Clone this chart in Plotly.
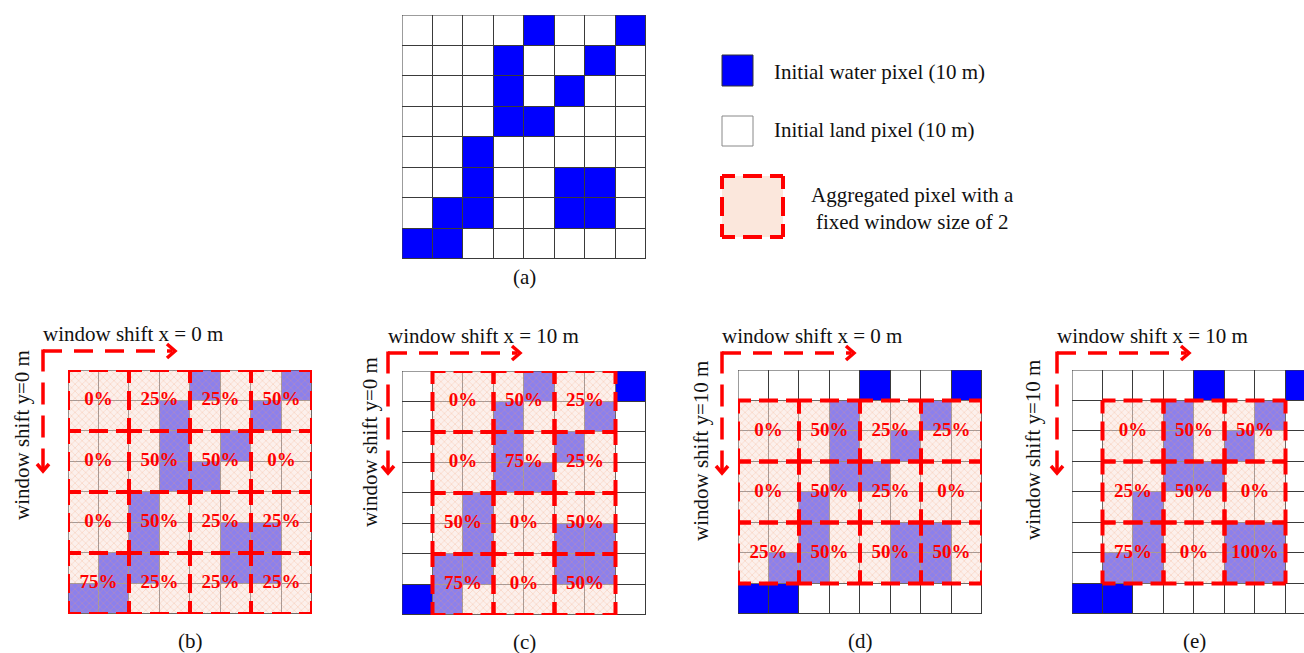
import plotly.graph_objects as go

W, H = 1304, 653
CELL = 30.5  # on-screen size of one 10 m pixel

# Initial 8x8 classification, row 0 at the top: 1 = water, 0 = land
water = [
    [0, 0, 0, 0, 1, 0, 0, 1],
    [0, 0, 0, 1, 0, 0, 1, 0],
    [0, 0, 0, 1, 0, 1, 0, 0],
    [0, 0, 0, 1, 1, 0, 0, 0],
    [0, 0, 1, 0, 0, 0, 0, 0],
    [0, 0, 1, 0, 0, 1, 1, 0],
    [0, 1, 1, 0, 0, 1, 1, 0],
    [1, 1, 0, 0, 0, 0, 0, 0],
]
window_size = 2
pixel_size_m = 10

panel_names = ["(b)", "(c)", "(d)", "(e)"]
shift_x_px = [0, 1, 0, 1]  # window offset in initial pixels
shift_y_px = [0, 0, 1, 1]

legend_labels = [
    "Initial water pixel (10 m)",
    "Initial land pixel (10 m)",
    "Aggregated pixel with a<br>fixed window size of 2",
]

# Page placement (pixels): grid top-left corner, shift-arrow corner, y-label centre
grid_origin = {"(a)": (402, 15), "(b)": (68, 370), "(c)": (402, 371),
               "(d)": (738, 370), "(e)": (1072, 370)}
arrow_corner = {"(b)": (43, 351), "(c)": (388, 353), "(d)": (722, 353), "(e)": (1057, 353)}
ylabel_pos = {"(b)": (22, 435), "(c)": (370, 442), "(d)": (701, 451), "(e)": (1033, 450)}

FONT = "Liberation Serif"
RED = "#ff0000"
WIN_DASH = "13px,8px,19px,8px,13px,0px"
GRID_LINE = "#3a3a3a"

n_rows, n_cols = len(water), len(water[0])


def px(x):
    return x / W


def py(y):
    return 1 - y / H


def label(x, y, text, **kw):
    d = dict(x=px(x), y=py(y), xref="paper", yref="paper", text=text, showarrow=False,
             xanchor="center", yanchor="middle", font=dict(size=21, color="#111"))
    d.update(kw)
    return d


fig = go.Figure()
shapes, annotations = [], []
layout_axes = {}

panels = [("(a)", None, None)] + list(zip(panel_names, shift_x_px, shift_y_px))
centers = [i + 0.5 for i in range(n_cols)]

for k, (name, sx, sy) in enumerate(panels, start=1):
    x0, y0 = grid_origin[name]
    right = min(x0 + n_cols * CELL, W)
    xid = "x" if k == 1 else f"x{k}"
    yid = "y" if k == 1 else f"y{k}"
    layout_axes["xaxis" if k == 1 else f"xaxis{k}"] = dict(
        domain=[px(x0), px(right)], range=[0, (right - x0) / CELL],
        visible=False, anchor=yid, fixedrange=True)
    layout_axes["yaxis" if k == 1 else f"yaxis{k}"] = dict(
        domain=[py(y0 + n_rows * CELL), py(y0)], range=[n_rows, 0],
        visible=False, anchor=xid, fixedrange=True)

    # base pixels: white land / blue water, 1px gaps show the grid lines
    fig.add_trace(go.Heatmap(
        z=water, x=centers, y=centers, zmin=0, zmax=1,
        colorscale=[[0, "#ffffff"], [1, "#0000ff"]], showscale=False,
        xgap=1, ygap=1, xaxis=xid, yaxis=yid, hoverinfo="skip"))
    shapes.append(dict(type="rect", xref=xid, yref=yid, x0=0, x1=n_cols, y0=0, y1=n_rows,
                       line=dict(color=GRID_LINE, width=1), fillcolor="rgba(0,0,0,0)"))

    if sx is None:
        annotations.append(label(x0 + 4 * CELL, y0 + n_rows * CELL + 18, name))
        continue

    # aggregation windows
    col_starts = list(range(sx, n_cols - window_size + 1, window_size))
    row_starts = list(range(sy, n_rows - window_size + 1, window_size))
    wx, wbase, lx, ly, ltxt = [], [], [], [], []
    for r in row_starts:
        for c in col_starts:
            n_water = sum(water[r + i][c + j] for i in range(window_size) for j in range(window_size))
            frac = n_water / window_size ** 2
            wx.append(c + window_size / 2)
            wbase.append(r)
            lx.append(c + window_size / 2)
            ly.append(r + window_size / 2)
            ltxt.append(f"{round(frac * 100)}%")
            shapes.append(dict(type="rect", xref=xid, yref=yid, x0=c, x1=c + window_size,
                               y0=r, y1=r + window_size,
                               line=dict(color=RED, width=4, dash=WIN_DASH)))
    fig.add_trace(go.Bar(
        x=wx, y=[window_size] * len(wx), base=wbase, width=window_size,
        xaxis=xid, yaxis=yid, hoverinfo="skip", showlegend=False,
        marker=dict(color="rgba(250,229,221,0.56)", line=dict(width=0),
                    pattern=dict(shape="x", fgcolor="#f0986a", fgopacity=0.45,
                                 size=5, solidity=0.2, fillmode="overlay"))))
    fig.add_trace(go.Scatter(
        x=lx, y=ly, text=ltxt, mode="text", textposition="middle center",
        xaxis=xid, yaxis=yid, hoverinfo="skip", showlegend=False,
        textfont=dict(family=FONT, size=19, color=RED, weight="bold")))

    # panel letter
    annotations.append(label(x0 + 4 * CELL, y0 + n_rows * CELL + 27, name))

    # shift arrows and their labels
    cx, cy = arrow_corner[name]
    hx, vy = cx + 132, cy + 120
    shapes.append(dict(type="line", xref="paper", yref="paper", x0=px(cx), y0=py(cy),
                       x1=px(hx - 3), y1=py(cy), line=dict(color=RED, width=3.5, dash="19px,12px")))
    shapes.append(dict(type="line", xref="paper", yref="paper", x0=px(cx), y0=py(cy - 1.5),
                       x1=px(cx), y1=py(vy - 3), line=dict(color=RED, width=3.5, dash="22px,11px")))
    shapes.append(dict(type="path", xref="paper", yref="paper",
                       path=f"M {px(hx - 8)},{py(cy - 7)} L {px(hx)},{py(cy)} L {px(hx - 8)},{py(cy + 7)}",
                       line=dict(color=RED, width=3.5)))
    shapes.append(dict(type="path", xref="paper", yref="paper",
                       path=f"M {px(cx - 6)},{py(vy - 7)} L {px(cx)},{py(vy)} L {px(cx + 6)},{py(vy - 7)}",
                       line=dict(color=RED, width=3.5)))
    shift_x_m = sx * pixel_size_m
    shift_y_m = sy * pixel_size_m
    annotations.append(label(cx - 2, cy - 17, f"window shift x = {shift_x_m} m", xanchor="left"))
    vx, vyc = ylabel_pos[name]
    annotations.append(label(vx, vyc, f"window shift y={shift_y_m} m", textangle=-90))

# legend
shapes.append(dict(type="rect", xref="paper", yref="paper", x0=px(722), x1=px(753),
                   y0=py(55), y1=py(86), fillcolor="#0000ff", line=dict(color="#333", width=1)))
shapes.append(dict(type="rect", xref="paper", yref="paper", x0=px(722), x1=px(753),
                   y0=py(116), y1=py(146), fillcolor="#ffffff", line=dict(color="#888", width=1)))
shapes.append(dict(type="rect", xref="paper", yref="paper", x0=px(722), x1=px(783),
                   y0=py(176), y1=py(237), fillcolor="#fbe7dc",
                   line=dict(color=RED, width=4, dash=WIN_DASH)))
annotations.append(label(772, 72, legend_labels[0], xanchor="left"))
annotations.append(label(772, 130, legend_labels[1], xanchor="left"))
annotations.append(label(912, 209, legend_labels[2], align="center"))

fig.update_layout(
    width=W, height=H, margin=dict(l=0, r=0, t=0, b=0),
    paper_bgcolor="white", plot_bgcolor=GRID_LINE,
    font=dict(family=FONT, color="#111"),
    showlegend=False, barmode="overlay",
    shapes=shapes, annotations=annotations, **layout_axes)

fig.write_html("out.html")
